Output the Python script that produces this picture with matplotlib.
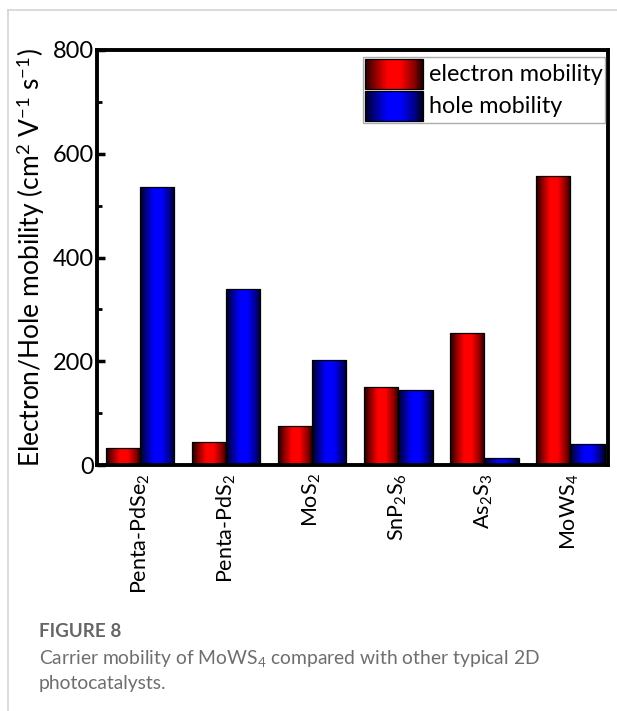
import numpy as np
import matplotlib
matplotlib.use("Agg")
import matplotlib.pyplot as plt
from matplotlib.colors import LinearSegmentedColormap
from matplotlib.patches import Rectangle
from matplotlib.legend_handler import HandlerBase
from matplotlib.lines import Line2D
from matplotlib.ticker import MultipleLocator

plt.rcParams['font.family'] = ['Lato', 'DejaVu Sans']
plt.rcParams['mathtext.fontset'] = 'custom'
plt.rcParams['mathtext.rm'] = 'Lato'
plt.rcParams['mathtext.it'] = 'Lato:italic'
plt.rcParams['mathtext.bf'] = 'Lato:bold'

# Carrier mobilities (cm^2 V^-1 s^-1)
materials = ["Penta-PdSe$_2$", "Penta-PdS$_2$", "MoS$_2$",
             "SnP$_2$S$_6$", "As$_2$S$_3$", "MoWS$_4$"]
electron_mobility = [33, 44, 75, 151, 254, 558]
hole_mobility = [535, 340, 202, 145, 13, 41]
series_labels = ["electron mobility", "hole mobility"]


def shaded_cmap(name, base):
    # dark edges, bright centre: a cylinder-like shading across each bar
    r, g, b = matplotlib.colors.to_rgb(base)
    stops = [(0.0, 0.10), (0.18, 0.55), (0.40, 1.0), (0.62, 1.0),
             (0.85, 0.55), (1.0, 0.12)]
    cols = [(p, (r * s, g * s, b * s)) for p, s in stops]
    return LinearSegmentedColormap.from_list(name, cols)


red_cmap = shaded_cmap("red_shade", "#ff0000")
blue_cmap = shaded_cmap("blue_shade", "#0000ff")
gradient = np.linspace(0, 1, 256).reshape(1, -1)

fig = plt.figure(figsize=(6.17, 7.11), dpi=100)
ax = fig.add_axes([97 / 617, 1 - 465 / 711, (608 - 97) / 617, (465 - 50) / 711])

x = np.arange(len(materials))
width = 0.4
bars_e = ax.bar(x - width / 2, electron_mobility, width, facecolor="none",
                edgecolor="black", linewidth=0.9, zorder=3)
bars_h = ax.bar(x + width / 2, hole_mobility, width, facecolor="none",
                edgecolor="black", linewidth=0.9, zorder=3)

for container, cmap in ((bars_e, red_cmap), (bars_h, blue_cmap)):
    for patch in container.patches:
        x0, y0 = patch.get_x(), patch.get_y()
        w, h = patch.get_width(), patch.get_height()
        im = ax.imshow(gradient, cmap=cmap, aspect="auto",
                       extent=[x0, x0 + w, y0, y0 + h], zorder=2,
                       interpolation="bilinear")
        im.set_clip_path(patch)

ax.set_xlim(-0.5, 5.44)
ax.set_ylim(0, 800)
ax.yaxis.set_major_locator(MultipleLocator(200))
ax.yaxis.set_minor_locator(MultipleLocator(100))
ax.tick_params(axis="y", which="major", direction="in", length=6, width=2.5,
               labelsize=17, pad=2)
ax.tick_params(axis="y", which="minor", direction="in", length=3.5, width=2)
ax.set_xticks(x)
ax.set_xticklabels(materials, rotation=90, fontsize=15.5)
ax.tick_params(axis="x", length=0, pad=6)
for sp in ax.spines.values():
    sp.set_linewidth(2.8)

ax.set_ylabel("Electron/Hole mobility (cm$^2$ V$^{-1}$ s$^{-1}$)", fontsize=19,
              labelpad=4)


class GradientHandler(HandlerBase):
    def __init__(self, cmap):
        super().__init__()
        self.cmap = cmap

    def create_artists(self, legend, orig_handle, xdescent, ydescent,
                       width, height, fontsize, trans):
        n = 40
        arts = []
        for i in range(n):
            c = self.cmap((i + 0.5) / n)
            arts.append(Rectangle((-xdescent + width * i / n, -ydescent),
                                  width / n + 0.3, height, facecolor=c,
                                  edgecolor="none", transform=trans))
        arts.append(Rectangle((-xdescent, -ydescent), width, height,
                              facecolor="none", edgecolor="black",
                              linewidth=0.9, transform=trans))
        return arts


h_e = Rectangle((0, 0), 1, 1)
h_h = Rectangle((0, 0), 1, 1)
leg = ax.legend([h_e, h_h], series_labels,
                handler_map={h_e: GradientHandler(red_cmap),
                             h_h: GradientHandler(blue_cmap)},
                loc="upper right", bbox_to_anchor=(605 / 617, 1 - 57 / 711),
                bbox_transform=fig.transFigure, borderaxespad=0,
                fontsize=16.8, frameon=True, fancybox=False,
                handlelength=2.5, handleheight=1.6, handletextpad=0.28,
                borderpad=0.08, labelspacing=0.08)
leg.get_frame().set_edgecolor("#999999")
leg.get_frame().set_linewidth(1.0)

# page frame
fig.add_artist(Line2D([8 / 617, 1], [1 - 10 / 711, 1 - 10 / 711],
                      transform=fig.transFigure, color="#d4d4d4", lw=1.2))
fig.add_artist(Line2D([8 / 617, 8 / 617], [0, 1 - 10 / 711],
                      transform=fig.transFigure, color="#d4d4d4", lw=1.2))

# caption
fig.text(39 / 617, 1 - 637 / 711, "FIGURE 8", fontsize=13.6, fontweight="bold",
         color="#666666", va="baseline", ha="left")
fig.text(39 / 617, 1 - 664 / 711,
         "Carrier mobility of MoWS$_4$ compared with other typical 2D",
         fontsize=13.9, color="#6e6e6e", va="baseline", ha="left")
fig.text(39 / 617, 1 - 689 / 711, "photocatalysts.", fontsize=13.9,
         color="#6e6e6e", va="baseline", ha="left")

fig.savefig("out.png", dpi=100)
